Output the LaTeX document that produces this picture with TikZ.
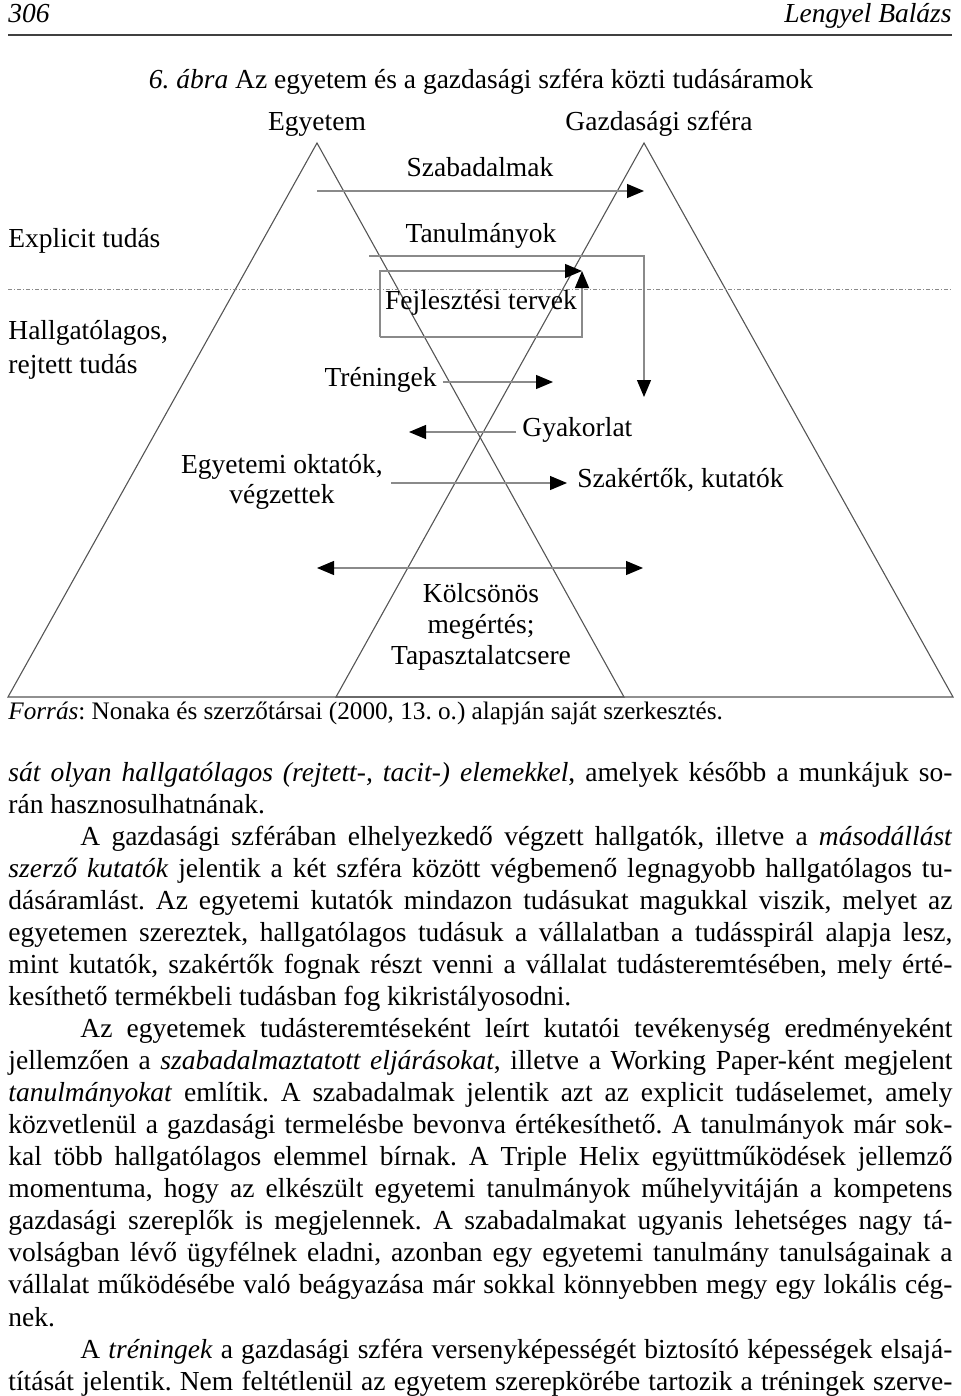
\documentclass[tikz,border=0pt]{standalone}
\usepackage{fontspec}
\setmainfont{Liberation Serif}
\usetikzlibrary{arrows.meta}
\definecolor{edge}{HTML}{555555}
\definecolor{flowline}{HTML}{8A8A8A}
\newcommand{\lblfont}{\fontsize{13.75}{16}\selectfont}
\newlength{\bodyw}
\setlength{\bodyw}{472pt}
\newcommand{\bodyj}[1]{\makebox[\bodyw][s]{#1}\par}
\newcommand{\bodyl}[1]{\makebox[\bodyw][l]{#1}\par}
\newcommand{\parind}{\hspace*{36pt}}
\frenchspacing

\begin{document}
\begin{tikzpicture}[x=0.5pt,y=-0.5pt,
    >={Triangle[length=8.5pt,width=7pt,color=black]},
    tri/.style={draw=edge,line width=0.55pt},
    flow/.style={draw=flowline,line width=0.6pt},
    lbl/.style={font=\lblfont,inner sep=0pt,text height=0.7em,text depth=0.22em},
    mlbl/.style={inner sep=0pt}]
  \useasboundingbox (0,0) rectangle (960,1396);

  % Page header
  \node[lbl,anchor=west,font=\lblfont\itshape] (pageno) at (8,18) {306};
  \node[lbl,anchor=east,font=\lblfont\itshape] (author) at (952,18) {Lengyel Balázs};
  \coordinate (rule-l) at (8,35);
  \coordinate (rule-r) at (952,35);
  \draw[line width=0.9pt,black!75] (rule-l) -- (rule-r);

  % Caption
  \node[lbl] (caption) at (481,84) {\textit{6. ábra} Az egyetem és a gazdasági szféra közti tudásáramok};

  % Two pyramids
  \coordinate (la) at (317,143);
  \coordinate (ll) at (8,697);
  \coordinate (lr) at (624,697);
  \coordinate (ra) at (644,143);
  \coordinate (rl) at (336,697);
  \coordinate (rr) at (953,697);
  \draw[tri] (la) -- (ll) -- (lr) -- cycle;
  \draw[tri] (ra) -- (rl) -- (rr) -- cycle;
  \node[lbl] (egyetem) at (317,126) {Egyetem};
  \node[lbl] (gazdasag) at (659,126) {Gazdasági szféra};

  % Explicit / tacit border
  \coordinate (sep-l) at (8,289);
  \coordinate (sep-r) at (952,289);
  \draw[flowline,line width=0.5pt,dash pattern=on 2pt off 1pt on 0.5pt off 1pt] (sep-l) -- (sep-r);
  \node[lbl,anchor=west] (explicit) at (8,243) {Explicit tudás};
  \node[mlbl,anchor=west,align=left,font={\fontsize{13.75}{17}\selectfont}] (rejtett) at (8,350) {Hallgatólagos,\\rejtett tudás};

  % Szabadalmak
  \node[lbl] (szabad) at (480,172) {Szabadalmak};
  \coordinate (szab-s) at (317,191);
  \coordinate (szab-e) at (644,191);
  \draw[flow,->] (szab-s) -- (szab-e);

  % Tanulmanyok
  \node[lbl] (tanul) at (481,238) {Tanulmányok};
  \coordinate (tan-s) at (369,256);
  \coordinate (tan-e) at (644,397);
  \draw[flow,->] (tan-s) -| (tan-e);

  % Fejlesztesi tervek
  \node[lbl] (fejl) at (481,305) {Fejlesztési tervek};
  \coordinate (fejl-bl) at (380,337);
  \coordinate (fejl-tr) at (582,271);
  \draw[flow,->] (fejl-bl) |- (fejl-tr);
  \draw[flow,->] (fejl-bl) -| (fejl-tr);

  % Treningek
  \node[lbl,anchor=east] (tren) at (437,382) {Tréningek};
  \coordinate (tren-e) at (553,382);
  \draw[flow,->,shorten <=3pt] (tren.east) -- (tren-e);

  % Gyakorlat
  \node[lbl,anchor=west] (gyak) at (522,432) {Gyakorlat};
  \coordinate (gyak-e) at (409,432);
  \draw[flow,->,shorten <=3pt] (gyak.west) -- (gyak-e);

  % Oktatok -> szakertok
  \node[mlbl,align=center,font={\fontsize{13.75}{15}\selectfont}] (oktatok) at (282,482) {Egyetemi oktatók,\\végzettek};
  \node[lbl,anchor=west] (szakert) at (577,483) {Szakértők, kutatók};
  \coordinate (okt-s) at (391,483);
  \draw[flow,->,shorten >=5pt] (okt-s) -- (szakert.west);

  % Kolcsonos megertes
  \coordinate (kolcs-l) at (317,568);
  \coordinate (kolcs-r) at (643,568);
  \draw[flow,<->] (kolcs-l) -- (kolcs-r);
  \node[mlbl,align=center,font={\fontsize{13.75}{15.5}\selectfont}] (kolcs) at (481,627) {Kölcsönös\\megértés;\\Tapasztalatcsere};

  % Source
  \node[lbl,anchor=west,font={\fontsize{12.6}{15}\selectfont}] (forras) at (8,715) {\textit{Forrás}: Nonaka és szerzőtársai (2000, 13. o.) alapján saját szerkesztés.};

  % Body text
  \node[anchor=base west,inner sep=0pt] (bodytext) at (8,781) {\parbox[t]{\bodyw}{%
    \fontsize{13.75}{16.03}\selectfont\setlength{\parindent}{0pt}\frenchspacing
    \bodyj{\textit{sát olyan hallgatólagos (rejtett-, tacit-) elemekkel}, amelyek később a munkájuk so-}
    \bodyl{rán hasznosulhatnának.}
    \bodyj{\parind A gazdasági szférában elhelyezkedő végzett hallgatók, illetve a \textit{másodállást}}
    \bodyj{\textit{szerző kutatók} jelentik a két szféra között végbemenő legnagyobb hallgatólagos tu-}
    \bodyj{dásáramlást. Az egyetemi kutatók mindazon tudásukat magukkal viszik, melyet az}
    \bodyj{egyetemen szereztek, hallgatólagos tudásuk a vállalatban a tudásspirál alapja lesz,}
    \bodyj{mint kutatók, szakértők fognak részt venni a vállalat tudásteremtésében, mely érté-}
    \bodyl{kesíthető termékbeli tudásban fog kikristályosodni.}
    \bodyj{\parind Az egyetemek tudásteremtéseként leírt kutatói tevékenység eredményeként}
    \bodyj{jellemzően a \textit{szabadalmaztatott eljárásokat}, illetve a Working Paper-ként megjelent}
    \bodyj{\textit{tanulmányokat} említik. A szabadalmak jelentik azt az explicit tudáselemet, amely}
    \bodyj{közvetlenül a gazdasági termelésbe bevonva értékesíthető. A tanulmányok már sok-}
    \bodyj{kal több hallgatólagos elemmel bírnak. A Triple Helix együttműködések jellemző}
    \bodyj{momentuma, hogy az elkészült egyetemi tanulmányok műhelyvitáján a kompetens}
    \bodyj{gazdasági szereplők is megjelennek. A szabadalmakat ugyanis lehetséges nagy tá-}
    \bodyj{volságban lévő ügyfélnek eladni, azonban egy egyetemi tanulmány tanulságainak a}
    \bodyj{vállalat működésébe való beágyazása már sokkal könnyebben megy egy lokális cég-}
    \bodyl{nek.}
    \bodyj{\parind A \textit{tréningek} a gazdasági szféra versenyképességét biztosító képességek elsajá-}
    \bodyj{títását jelentik. Nem feltétlenül az egyetem szerepkörébe tartozik a tréningek szerve-}}};
\end{tikzpicture}
\end{document}
